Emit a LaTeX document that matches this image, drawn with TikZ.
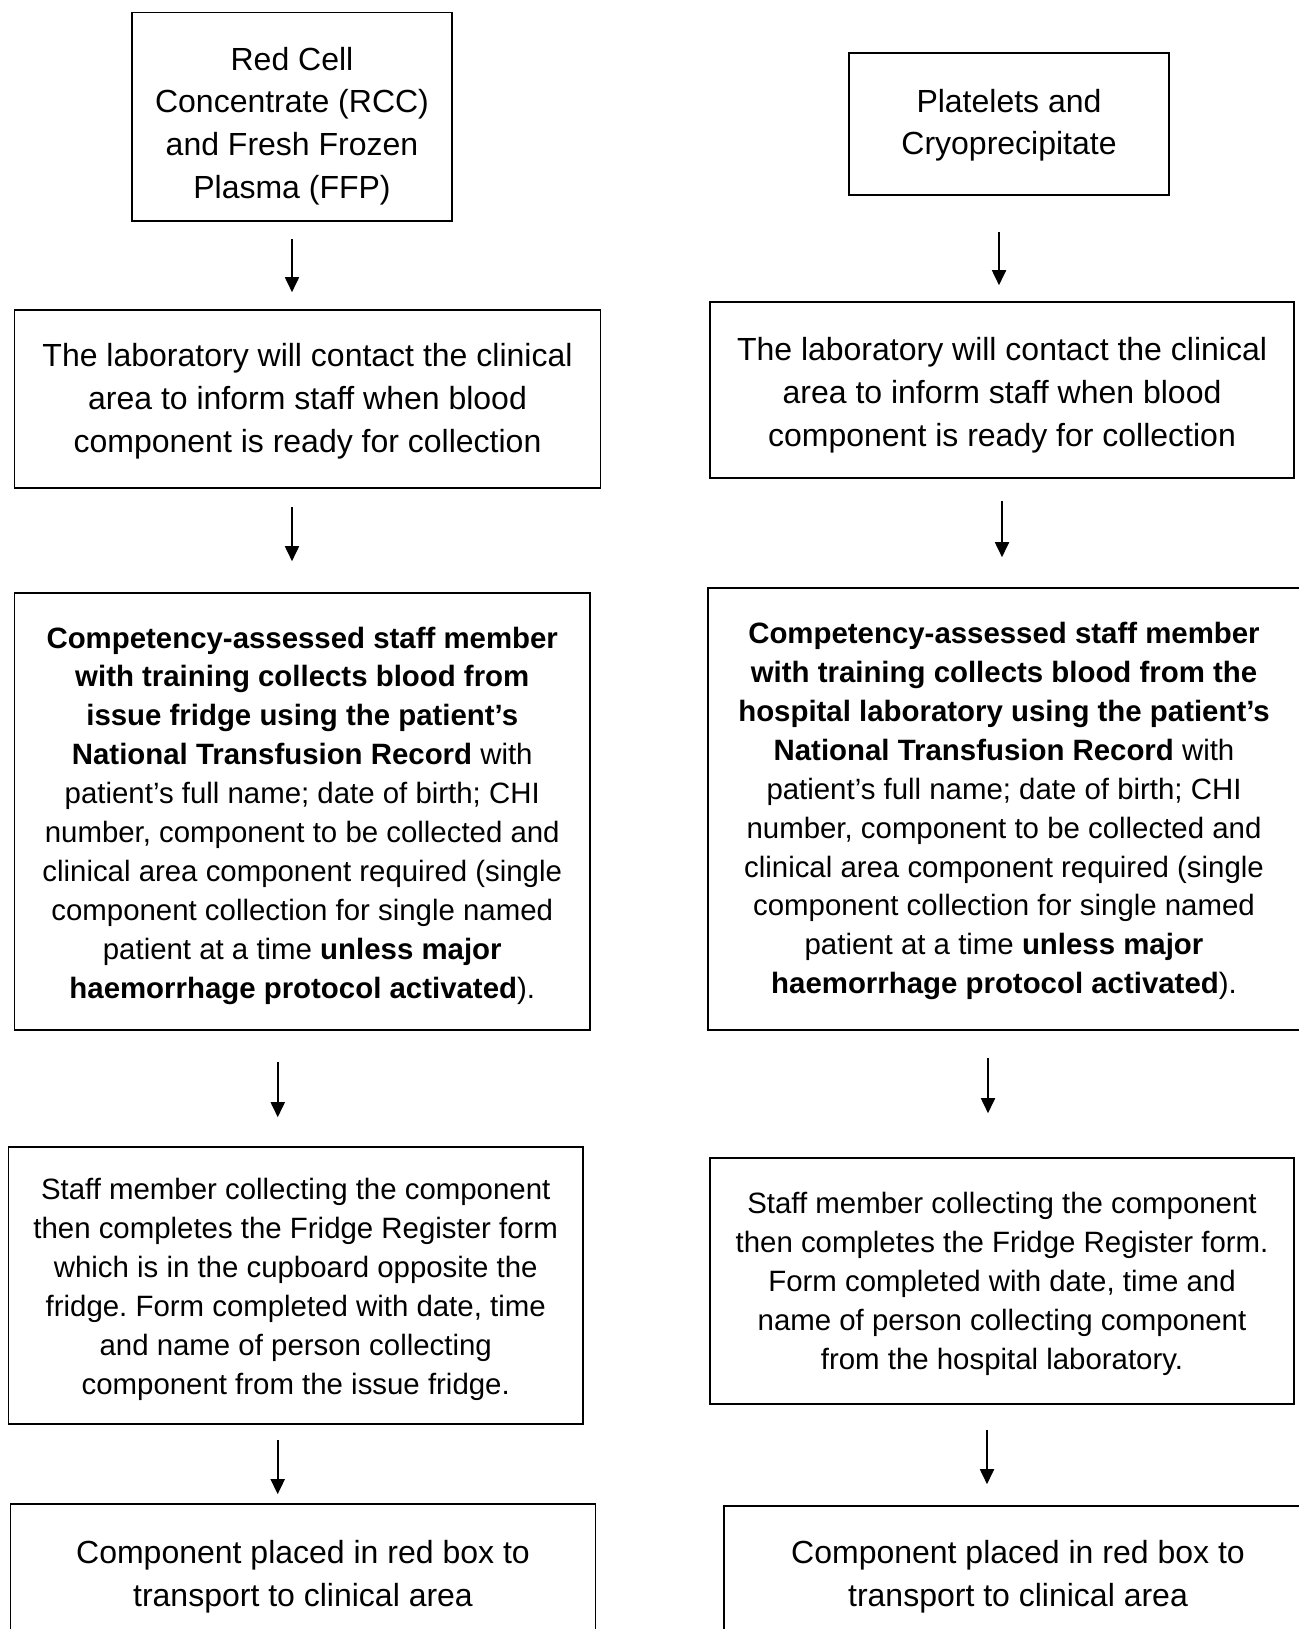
\documentclass[tikz,border=0pt]{standalone}
\usepackage{fontspec}
\setmainfont{Liberation Sans}
\usetikzlibrary{arrows.meta}
\newcommand\tstrut[1]{\rule{0pt}{#1em}}
\begin{document}
\frenchspacing
\begin{tikzpicture}[x=1pt,y=-1pt,
  box/.style={draw, line width=1.6pt, inner sep=0pt, align=center},
  big/.style={font=\fontsize{32}{42.6}\selectfont\frenchspacing},
  med/.style={font=\fontsize{29.4}{38.9}\selectfont\frenchspacing},
  arr/.style={line width=1.8pt, -{Triangle[length=15pt,width=14pt]}}]
\useasboundingbox (0,0) rectangle (1298,1629);
% left column
\node[box,big,minimum width=320pt,minimum height=208.5pt] (A1) at (292,116.75)
  {\tstrut{1.3}Red Cell\\Concentrate (RCC)\\and Fresh Frozen\\Plasma (FFP)};
\node[box,big,minimum width=586pt,minimum height=178pt] (A2) at (307.5,399)
  {\tstrut{0.86}The laboratory will contact the clinical\\area to inform staff when blood\\component is ready for collection};
\node[box,med,minimum width=575.5pt,minimum height=437pt] (A3) at (302.25,811.5)
  {\tstrut{1.0}\textbf{Competency-assessed staff member}\\\textbf{with training collects blood from}\\\textbf{issue fridge using the patient’s}\\\textbf{National Transfusion Record} with\\patient’s full name; date of birth; CHI\\number, component to be collected and\\clinical area component required (single\\component collection for single named\\patient at a time \textbf{unless major}\\\textbf{haemorrhage protocol activated}).};
\node[box,med,minimum width=574.7pt,minimum height=277pt] (A4) at (295.7,1285.5)
  {\tstrut{1.0}Staff member collecting the component\\then completes the Fridge Register form\\which is in the cupboard opposite the\\fridge. Form completed with date, time\\and name of person collecting\\component from the issue fridge.};
\node[box,big,minimum width=585pt,minimum height=139pt] (A5) at (303,1573.5)
  {\tstrut{0.92}Component placed in red box to\\transport to clinical area};
% right column
\node[box,big,minimum width=320pt,minimum height=142pt] (B1) at (1009,124)
  {\tstrut{0.8}Platelets and\\Cryoprecipitate};
\node[box,big,minimum width=584pt,minimum height=176pt] (B2) at (1002,390)
  {\tstrut{1.055}The laboratory will contact the clinical\\area to inform staff when blood\\component is ready for collection};
\node[box,med,minimum width=592pt,minimum height=442pt] (B3) at (1004,809)
  {\tstrut{0.87}\textbf{Competency-assessed staff member}\\\textbf{with training collects blood from the}\\\textbf{hospital laboratory using the patient’s}\\\textbf{National Transfusion Record} with\\patient’s full name; date of birth; CHI\\number, component to be collected and\\clinical area component required (single\\component collection for single named\\patient at a time \textbf{unless major}\\\textbf{haemorrhage protocol activated}).};
\node[box,med,minimum width=584pt,minimum height=246pt] (B4) at (1002,1281)
  {\tstrut{0.94}Staff member collecting the component\\then completes the Fridge Register form.\\Form completed with date, time and\\name of person collecting component\\from the hospital laboratory.};
\node[box,big,minimum width=588pt,minimum height=135pt] (B5) at (1018,1573.5)
  {\tstrut{0.92}Component placed in red box to\\transport to clinical area};
% arrows left
\draw[arr, shorten <=17pt, shorten >=17pt] (A1.south) -- (A1.south |- A2.north);
\draw[arr, shorten <=18pt, shorten >=31pt] ([xshift=-15.5pt]A2.south) -- ([xshift=-15.5pt]A2.south |- A3.north);
\draw[arr, shorten <=31pt, shorten >=29pt] ([xshift=-24.5pt]A3.south) -- ([xshift=-24.5pt]A3.south |- A4.north);
\draw[arr, shorten <=15pt, shorten >=9pt] ([xshift=-18pt]A4.south) -- ([xshift=-18pt]A4.south |- A5.north);
% arrows right
\draw[arr, shorten <=36pt, shorten >=16pt] ([xshift=-10pt]B1.south) -- ([xshift=-10pt]B1.south |- B2.north);
\draw[arr, shorten <=22pt, shorten >=30pt] (B2.south) -- (B2.south |- B3.north);
\draw[arr, shorten <=27pt, shorten >=44pt] ([xshift=-16pt]B3.south) -- ([xshift=-16pt]B3.south |- B4.north);
\draw[arr, shorten <=25pt, shorten >=21pt] ([xshift=-15pt]B4.south) -- ([xshift=-15pt]B4.south |- B5.north);
\end{tikzpicture}
\end{document}
